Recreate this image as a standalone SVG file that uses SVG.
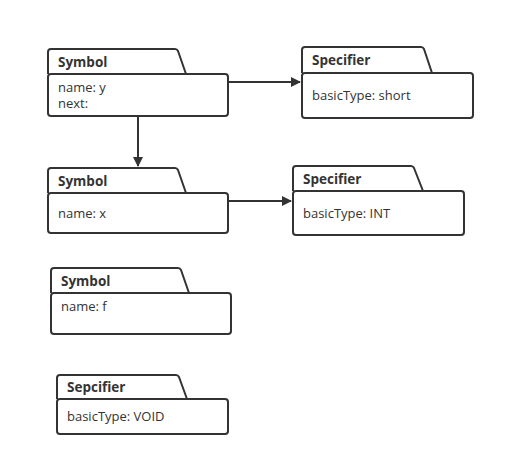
<svg xmlns="http://www.w3.org/2000/svg" width="505" height="467" viewBox="0 0 505 467">
<defs>
<style>
.shape{fill:#fff;stroke:#333;stroke-width:2;stroke-linejoin:round}
.title{font-family:"Open Sans","Noto Sans",sans-serif;font-size:13.5px;font-weight:bold;fill:#333}
.attr{font-family:"Open Sans","Noto Sans",sans-serif;font-size:13px;fill:#333}
.edge{stroke:#333;stroke-width:2;fill:none}
</style>
<marker id="arr" markerWidth="10" markerHeight="10" refX="9" refY="5" orient="auto" markerUnits="userSpaceOnUse" viewBox="0 0 10 10">
<path d="M0,0 L10,5 L0,10 z" fill="#333"/>
</marker>
</defs>
<rect width="505" height="467" fill="#fff"/>
<g id="connectors">
<line class="edge" x1="229" y1="82" x2="300" y2="82" marker-end="url(#arr)"/>
<line class="edge" x1="138" y1="117" x2="138" y2="166" marker-end="url(#arr)"/>
<line class="edge" x1="229" y1="201" x2="291" y2="201" marker-end="url(#arr)"/>
</g>
<g id="symbol-y">
<path class="shape" d="M48,74 L48,52 Q48,49 51,49 L175,49 Q177,49 178,51 L186,74"/>
<rect class="shape" x="48" y="74" width="180" height="42" rx="3"/>
<text class="title" x="58" y="67">Symbol</text>
<text class="attr" x="58" y="92">name: y</text>
<text class="attr" x="58" y="107.5">next:</text>
</g>
<g id="specifier-short">
<path class="shape" d="M302,73 L302,50 Q302,47 305,47 L421,47 Q423,47 424,49 L432,73"/>
<rect class="shape" x="302" y="73" width="171" height="45" rx="3"/>
<text class="title" x="312" y="65">Specifier</text>
<text class="attr" x="312" y="100">basicType: short</text>
</g>
<g id="symbol-x">
<path class="shape" d="M48,193 L48,171 Q48,168 51,168 L175,168 Q177,168 178,170 L186,193"/>
<rect class="shape" x="48" y="193" width="180" height="40" rx="3"/>
<text class="title" x="58" y="186">Symbol</text>
<text class="attr" x="58" y="218">name: x</text>
</g>
<g id="specifier-int">
<path class="shape" d="M293,191 L293,169 Q293,166 296,166 L411,166 Q413,166 414,168 L423,191"/>
<rect class="shape" x="293" y="191" width="171" height="44" rx="3"/>
<text class="title" x="303" y="184">Specifier</text>
<text class="attr" x="303" y="218">basicType: INT</text>
</g>
<g id="symbol-f">
<path class="shape" d="M51,293 L51,271 Q51,268 54,268 L178,268 Q180,268 181,270 L189,293"/>
<rect class="shape" x="51" y="293" width="180" height="41" rx="3"/>
<text class="title" x="61" y="286">Symbol</text>
<text class="attr" x="61" y="311">name: f</text>
</g>
<g id="sepcifier-void">
<path class="shape" d="M57,399 L57,378 Q57,375 60,375 L176,375 Q178,375 179,377 L187,399"/>
<rect class="shape" x="57" y="399" width="171" height="35" rx="3"/>
<text class="title" x="67" y="392">Sepcifier</text>
<text class="attr" x="67" y="421">basicType: VOID</text>
</g>
</svg>
